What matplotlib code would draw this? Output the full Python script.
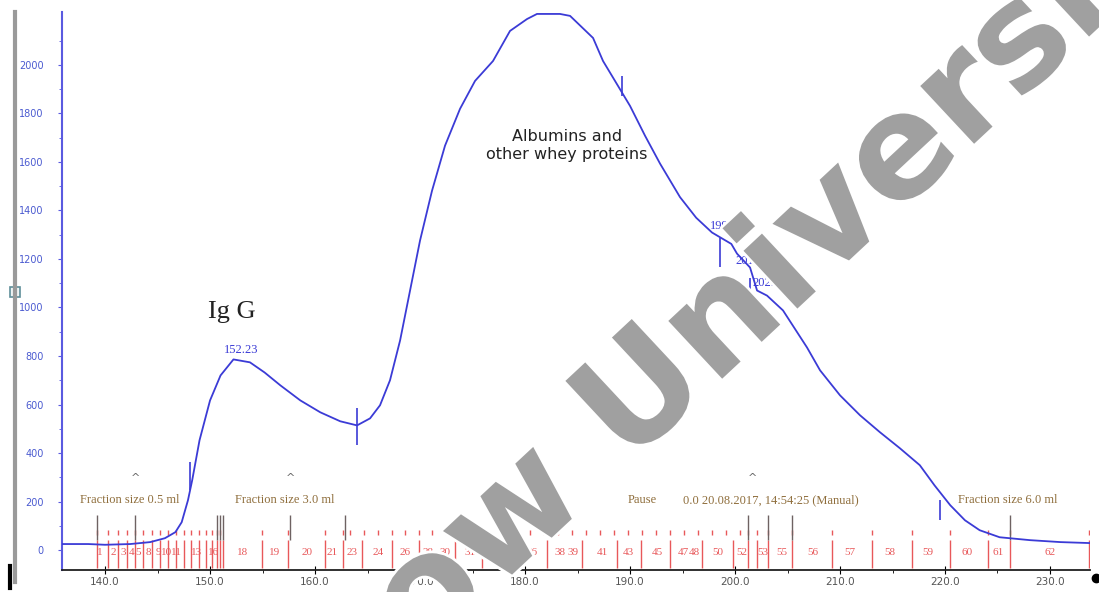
import numpy as np
import matplotlib.pyplot as plt
import matplotlib.patheffects as pe
from matplotlib.lines import Line2D
from matplotlib.patches import Rectangle

# elution profile (volume, absorbance)
vol = [135.9, 138.4, 140.0, 142.4, 144.3, 145.7, 146.7, 147.3, 147.9, 148.3, 149.0, 150.0,
       151.0, 152.23, 153.8, 155.2, 156.7, 158.6, 160.5, 162.4, 164.0, 165.24, 166.19, 167.14,
       168.10, 169.05, 170.00, 171.14, 172.38, 173.81, 175.24, 176.95, 178.57, 180.19, 181.14,
       183.33, 184.29, 186.48, 187.43, 188.57, 190.00, 191.43, 192.86, 194.76, 196.3, 197.81,
       199.65, 200.19, 201.43, 202.10, 203.05, 204.57, 206.86, 208.10, 210.0, 211.9, 213.8,
       215.7, 217.6, 219.0, 220.5, 221.9, 223.3, 225.2, 228.1, 231.0, 233.8]
absorb = [25, 25, 22, 25, 33, 49, 74, 115, 206, 288, 453, 617,
          720, 786, 774, 732, 679, 617, 568, 531, 514, 543, 597, 700,
          864, 1070, 1276, 1481, 1667, 1819, 1934, 2016, 2140, 2189, 2210,
          2210, 2202, 2111, 2016, 1934, 1831, 1708, 1593, 1455, 1370, 1309,
          1262, 1222, 1165, 1070, 1049, 988, 835, 741, 638, 556, 486,
          420, 350, 267, 185, 123, 82, 53, 41, 33, 29]

# small vertical marks on the trace (x, y_low, y_high)
curve_marks_x = [148.1, 164.0, 189.2, 219.5, 198.6, 201.4, 202.1]
curve_marks_lo = [247, 432, 1872, 123, 1165, 914, 893]
curve_marks_hi = [362, 584, 1955, 206, 1288, 1123, 1041]

peak_labels = ['152.23', '199.65', '201.37', '202.87']
peak_x = [152.95, 199.24, 201.71, 203.33]
peak_y = [823, 1337, 1193, 1099]

# fraction collector
frac_edges_small = [139.24, 140.29, 141.24, 142.10, 142.86, 143.62, 144.48, 145.24, 146.00,
                    146.76, 147.52, 148.19, 148.95, 149.62, 150.19, 150.67, 150.95]
frac_edges_mid = [151.24, 154.95, 157.43, 160.95, 162.67, 164.48, 167.33, 169.90, 173.33,
                  175.90, 179.05, 182.10, 185.43, 188.76, 191.05, 193.81, 196.86, 199.81,
                  201.24, 202.10, 203.14]
frac_edges_big = [205.43, 209.24, 213.05, 216.86, 220.48, 224.10, 226.19, 233.71]
top_marks_mid = [154.95, 157.43, 160.95, 162.67, 163.33, 164.67, 166.00, 167.33, 168.57,
                 169.90, 171.14, 172.48, 173.81, 175.14, 176.48, 177.81, 179.14, 180.48,
                 181.81, 183.14, 184.48, 185.81, 187.14, 188.48, 189.81, 191.14, 192.48,
                 193.81, 195.14, 196.48, 197.81, 199.14, 200.48, 201.24, 202.10, 203.14]
frac_labels = ['1', '2', '3', '4', '5', '8', '9', '10', '11', '13', '16', '18', '19', '20',
               '21', '23', '24', '26', '28', '30', '31', '33', '34', '36', '38', '39', '41',
               '43', '45', '47', '48', '50', '52', '53', '55', '56', '57', '58', '59', '60',
               '61', '62', '63']
frac_label_x = [139.52, 140.76, 141.71, 142.48, 143.14, 144.10, 145.05, 145.81, 146.76,
                148.67, 150.38, 153.14, 156.19, 159.24, 161.62, 163.52, 166.0, 168.57,
                170.76, 172.38, 174.76, 176.67, 177.9, 180.67, 183.33, 184.57, 187.33,
                189.81, 192.57, 195.05, 196.1, 198.38, 200.6, 202.6, 204.48, 207.43,
                210.95, 214.76, 218.38, 222.1, 225.05, 230.0, 234.3]
event_x = [139.24, 142.86, 150.67, 150.95, 151.24, 157.62, 162.86, 201.24, 203.14, 205.43,
           226.19]
caret_x = [142.86, 157.71, 201.62]

notes = ['Fraction size 0.5 ml', 'Fraction size 3.0 ml', 'Pause',
         '0.0 20.08.2017, 14:54:25 (Manual)', 'Fraction size 6.0 ml']
notes_x = [137.6, 152.4, 189.8, 195.0, 221.2]

W, H = 1099, 592
fig = plt.figure(figsize=(W / 100, H / 100), dpi=100)
ax = fig.add_axes([62 / W, 22 / H, (1090 - 62) / W, (580 - 22) / H])
ax.set_xlim(135.9, 233.81)
ax.set_ylim(-82, 2218)

blue = '#3b3bd6'
red = '#e8585a'
tan = '#8f6e3c'

ax.plot(vol, absorb, color=blue, lw=1.3, zorder=5)
ax.vlines(curve_marks_x, curve_marks_lo, curve_marks_hi, color=blue, lw=1.2, zorder=5)
for t, x, y in zip(peak_labels, peak_x, peak_y):
    ax.text(x, y, t, color=blue, fontsize=9, family='Liberation Serif',
            ha='center', va='center', zorder=6)

# fractions
lower = frac_edges_small + frac_edges_mid + frac_edges_big
ax.vlines(lower, -72, 40, color=red, lw=1.0, zorder=3)
top = frac_edges_small + top_marks_mid + frac_edges_big
ax.vlines(top, 62, 84, color=red, lw=1.0, zorder=3)
ax.vlines(event_x, 41, 144, color='#6e6262', lw=1.0, zorder=3)
for t, x in zip(frac_labels, frac_label_x):
    ax.text(x, -8, t, color=red, fontsize=8, family='Liberation Serif',
            ha='center', va='center', clip_on=True, zorder=4)
for x in caret_x:
    ax.text(x, 296, '^', color='#666666', fontsize=8, ha='center', va='center')
for t, x in zip(notes, notes_x):
    ax.text(x, 206, t, color=tan, fontsize=9, family='Liberation Serif',
            ha='left', va='center', zorder=4)

ax.text(152.1, 980, 'Ig G', fontsize=19, family='Liberation Serif', color='#222222',
        ha='center', va='center')
ax.text(184.0, 1667, 'Albumins and\nother whey proteins', fontsize=11.5,
        color='#222222', ha='center', va='center', linespacing=1.25)

# axes styling
for s in ['top', 'right']:
    ax.spines[s].set_visible(False)
ax.spines['left'].set_color('#5a5ae0')
ax.spines['left'].set_linewidth(1.5)
ax.spines['bottom'].set_color('#202020')
ax.spines['bottom'].set_linewidth(1.3)
ax.set_yticks(np.arange(0, 2001, 200))
ax.set_yticks(np.arange(100, 2201, 200), minor=True)
ax.set_xticks(np.arange(140, 231, 10))
ax.set_xticks(np.arange(145, 231, 10), minor=True)
ax.set_xticklabels(['%.1f' % v for v in np.arange(140, 231, 10)])
ax.tick_params(axis='y', which='major', length=3, pad=10, labelsize=7,
               colors='#5a5ae0', labelcolor='#4a5ad0')
ax.tick_params(axis='y', which='minor', length=2, colors='#5a5ae0')
ax.tick_params(axis='x', which='major', direction='inout', length=6, pad=2,
               labelsize=7.5, labelcolor='#555555')
ax.tick_params(axis='x', which='minor', length=2)

# window chrome around the plot
fig.add_artist(Line2D([15 / W, 15 / W], [(H - 12) / H, (H - 582) / H], color='#9a9a9a', lw=3))
fig.add_artist(Rectangle((10 / W, (H - 297) / H), 10 / W, 10 / H, facecolor='#eef4f4',
                         edgecolor='#5f8f9a', lw=1.2))
fig.add_artist(Line2D([10 / W, 10 / W], [(H - 566) / H, (H - 588) / H], color='black', lw=3))
fig.add_artist(Line2D([1096 / W], [(H - 578) / H], marker='o', ms=6, color='black'))

# watermark
fig.text(650 / W, (H - 392) / H, 'Moscow University', fontsize=104, fontweight='bold',
         color='#a0a0a0', rotation=43, ha='center', va='center',
         rotation_mode='anchor', zorder=20,
         path_effects=[pe.withStroke(linewidth=4, foreground='white')])

fig.savefig('out.png', dpi=100)
